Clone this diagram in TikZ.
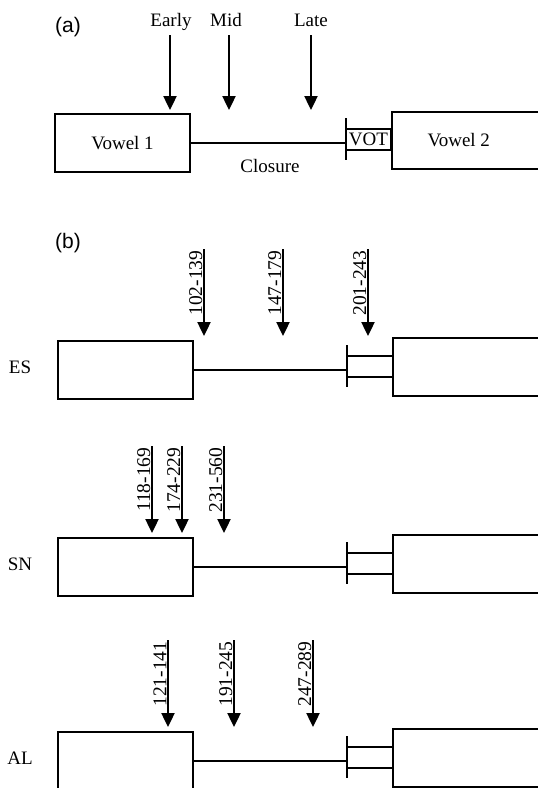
\documentclass[tikz,border=0pt]{standalone}
\usepackage{fontspec}
\setmainfont{Liberation Serif}
\newfontfamily\tagfont{Liberation Sans}
\usetikzlibrary{positioning,arrows.meta}
\tikzset{
  vbox/.style={draw,line width=1.5pt,minimum width=135pt,minimum height=58pt,
               inner sep=0pt,font=\fontsize{19}{22}\selectfont},
  votbox/.style={draw,line width=1.5pt,minimum width=45pt,minimum height=21pt,
                 inner sep=0pt,font=\fontsize{19}{22}\selectfont},
  link/.style={line width=1.5pt},
  arr/.style={-{Triangle[width=13pt,length=14pt]},line width=2.4pt},
  lab/.style={inner sep=1pt,font=\fontsize{19}{22}\selectfont},
  num/.style={rotate=90,anchor=south east,inner sep=1.5pt,font=\fontsize{19.5}{22}\selectfont},
  tag/.style={inner sep=0pt,font=\tagfont\fontsize{21}{24}\selectfont},
}
\begin{document}
\begin{tikzpicture}[x=1pt,y=-1pt]
  \useasboundingbox (0,0) rectangle (538,788);
  \clip (0,0) rectangle (538,788);
  % panel (a)
  \node[tag] (ta) at (68,27) {(a)};
  \node[vbox] (v1a) at (122.5,143) {Vowel 1};
  \node[vbox,anchor=north west,minimum width=150pt,minimum height=57pt] (v2a) at (391,111) {Vowel 2\hspace*{16pt}};
  \coordinate (bta) at (346,118);
  \coordinate (bba) at (346,160);
  \draw[link] (bta) -- (bba);
  \node[votbox] (vot) at (368.5,139.5) {VOT};
  \draw[link] (v1a.east) -- (v1a.east -| bta);
  \node[lab] (clos) at (270,166) {Closure};
  \foreach \n/\x/\lx/\txt in {e/170/171/Early, m/229/226/Mid, l/311/311/Late} {
    \coordinate (a\n) at (\x,35);
    \coordinate (t\n) at (\x,110);
    \node[lab,anchor=base] (l\n) at (\lx,26) {\txt};
    \draw[arr] (a\n) -- (t\n);
  }
  % panel (b)
  \node[tag] (tb) at (68,243) {(b)};
  \foreach \r/\T in {ES/340, SN/537, AL/731} {
    \node[lab] (r\r) at (20,\T+27) {\r};
    \node[vbox,anchor=north west] (v1\r) at (57,\T) {};
    \node[vbox,anchor=north west,minimum width=160pt] (v2\r) at (392,\T-3) {};
    \coordinate (bt\r) at (347,\T+5);
    \coordinate (bb\r) at (347,\T+47);
    \coordinate (vu\r) at (347,\T+16);
    \coordinate (vd\r) at (347,\T+37);
    \draw[link] (bt\r) -- (bb\r);
    \draw[link] (v1\r.east) -- (v1\r.east -| bt\r);
    \draw[link] (vu\r) -- (vu\r -| v2\r.west);
    \draw[link] (vd\r) -- (vd\r -| v2\r.west);
  }
  \foreach \r/\T/\x/\txt in {ES/340/204/102-139, ES/340/283/147-179, ES/340/368/201-243,
                             SN/537/152/118-169, SN/537/182/174-229, SN/537/224/231-560,
                             AL/731/168/121-141, AL/731/234/191-245, AL/731/313/247-289} {
    \coordinate (s\r\x) at (\x,\T-91);
    \coordinate (e\r\x) at (\x,\T-4);
    \draw[arr] (s\r\x) -- (e\r\x);
    \node[num] (n\r\x) at (s\r\x) {\txt};
  }
\end{tikzpicture}
\end{document}
